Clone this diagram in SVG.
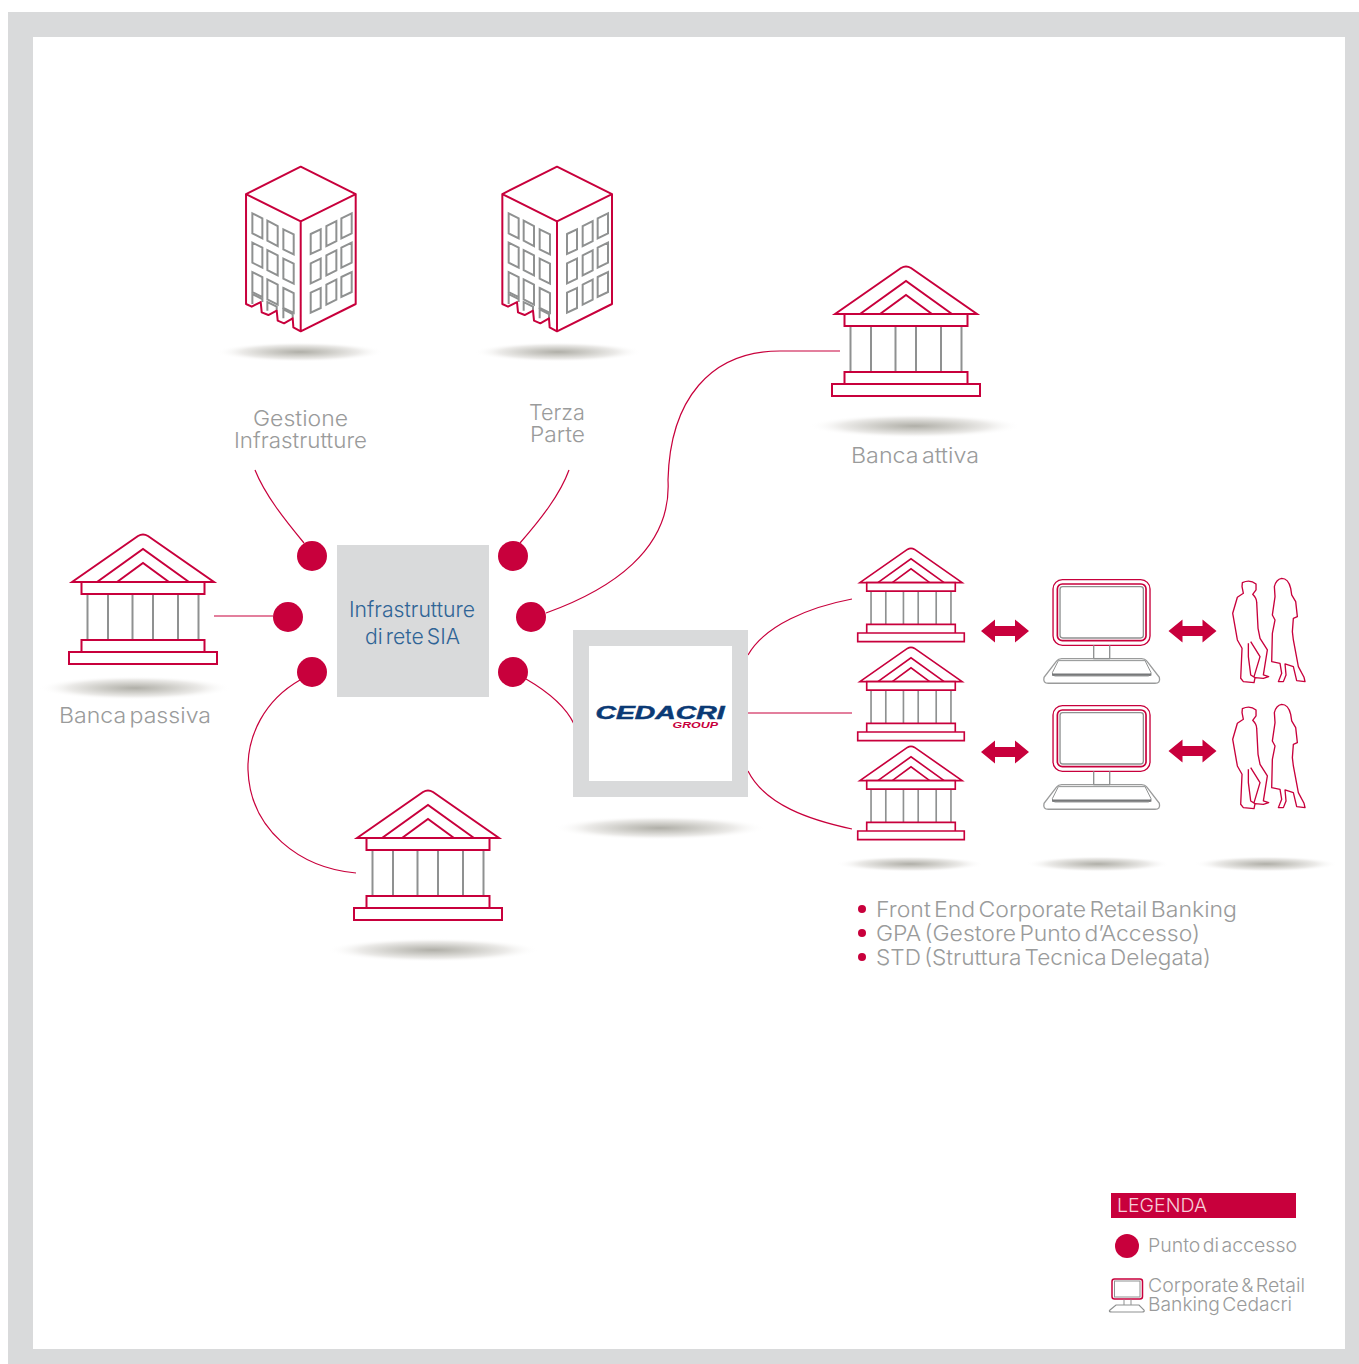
<svg xmlns="http://www.w3.org/2000/svg" xmlns:xlink="http://www.w3.org/1999/xlink" width="1359" height="1364" viewBox="0 0 1359 1364">
<style>
.b{fill:none;stroke:#c8003c}
.bw{fill:#fff;stroke:#c8003c}
.bg{fill:none;stroke:#8f9191}
.c{fill:none;stroke:#c8003c;stroke-width:1.2}
.dot{fill:#c8003c}
text{font-family:"Inter","Liberation Sans",sans-serif;font-weight:300;fill:#9a9b9b;font-size:22px;word-spacing:-3px}
.m{text-anchor:middle}
</style>
<defs>
<radialGradient id="sh"><stop offset="0" stop-color="#b0afa8"/><stop offset=".35" stop-color="#cdccc7"/><stop offset=".7" stop-color="#ecebe9"/><stop offset="1" stop-color="#fff" stop-opacity="0"/></radialGradient>
<g id="bank">
<path class="b" d="M-71 48 L-5 2 Q0 -1 5 2 L71 48 Z"/>
<path class="b" d="M-46 48 L0 15 L46 48 M-26 48 L0 29 L26 48"/>
<path class="bg" d="M-55.500 60V106M-35 60V106M-10.500 60V106M10 60V106M35 60V106M55.500 60V106"/>
<path class="bw" d="M-61.500 48H61.500V60H-61.500Z M-61.500 106H61.500V118H-61.500Z M-74 118H74V130H-74Z"/>
</g>
<g id="tower" transform="scale(.3333) translate(-272,-50)">
<g fill="none" stroke="#8f9191" stroke-width="6">
<path d="M127 190L157 205V265L127 250ZM172 212L203 228V288L172 272ZM220 238L251 253V313L220 298Z"/>
<path d="M127 278L157 293V353L127 338ZM172 300L203 316V376L172 360ZM220 326L251 341V401L220 386Z"/>
<path d="M127 366L157 381V441L127 426ZM172 388L203 404V464L172 448ZM220 414L251 429V489L220 474Z"/>
<path d="M127 462V432L157 447V456M172 482V456L200 470V482M220 505V478L248 492V505"/>
<path d="M302 252L332 238V298L302 312ZM349 228L379 213V273L349 288ZM394 205L425 190V250L394 265Z"/>
<path d="M302 340L332 326V386L302 400ZM349 316L379 301V361L349 376ZM394 293L425 278V338L394 353Z"/>
<path d="M302 428L332 414V474L302 488ZM349 404L379 389V449L349 464ZM394 381L425 366V426L394 441Z"/>
</g>
<path fill="none" stroke="#c8003c" stroke-width="6" stroke-linejoin="round" d="M272 50L437 132L272 214L108 132ZM108 132V462L125 470L152 456L155 487L175 495L200 482L203 512L222 520L248 505L250 532L272 544L437 462V132M272 214V544"/>
</g>
<path id="arrow" class="dot" d="M-24 0L-10 -11.500V-5H10V-11.500L24 0L10 11.500V5H-10V11.500Z"/>
<g id="pc" transform="scale(.3333) translate(-68,-58)">
<rect x="69" y="59" width="291" height="197" rx="28" fill="none" stroke="#c8003c" stroke-width="4"/>
<rect x="82" y="72" width="266" height="170" rx="15" fill="none" stroke="#c8003c" stroke-width="5"/>
<rect x="90" y="80" width="250" height="154" rx="8" fill="none" stroke="#8f9191" stroke-width="4"/>
<path d="M191 256V296M239 256V296" fill="none" stroke="#8f9191" stroke-width="4"/>
<path d="M95 296H335Q345 296 350 303L388 352Q392 370 375 370H55Q38 370 42 352L80 303Q85 296 95 296Z" fill="none" stroke="#9a9b9b" stroke-width="4"/>
<path d="M85 302H345L363 338Q364 348 355 348H75Q66 348 67 338Z" fill="none" stroke="#8f9191" stroke-width="3"/>
<path d="M66 344H364" fill="none" stroke="#77797a" stroke-width="7"/>
<path d="M190 296H240" fill="none" stroke="#8f9191" stroke-width="4"/>
</g>
<g id="people" transform="scale(.3333) translate(-608,-55)" fill="none" stroke="#c8003c" stroke-width="4" stroke-linejoin="round">
<path d="M637 68Q660 57 678 72L678 90L668 103Q680 115 680 128L684 205L690 235L712 270L700 345L716 350L700 355L675 353L672 368L640 365L632 355L636 265L622 240L608 160L622 112L640 100L636 80Z"/>
<path d="M655 250V290L662 345L675 353M662 245L690 290L672 350"/>
<path d="M755 55Q775 55 782 85L785 105L797 125L802 170L790 175L787 215L790 240L805 320L822 352L825 365L800 362L790 320L765 312L768 345L760 365L745 365L755 340L750 310L725 305L727 220L735 180L727 165L735 110L733 80Q738 58 755 55Z"/>
</g>
</defs>
<rect width="1359" height="1364" fill="#fff"/>
<path id="frame" fill="#d9dadb" fill-rule="evenodd" d="M8 12H1359V1364H8ZM33 37V1349H1345V37Z"/>
<g id="shadows" fill="url(#sh)">
<ellipse cx="300" cy="352" rx="84" ry="10"/>
<ellipse cx="558" cy="352" rx="84" ry="10"/>
<ellipse cx="915" cy="426" rx="106" ry="12"/>
<ellipse cx="135" cy="688" rx="96" ry="12"/>
<ellipse cx="660" cy="828" rx="106" ry="12"/>
<ellipse cx="433" cy="950" rx="106" ry="12"/>
<ellipse cx="910" cy="864" rx="74" ry="8"/>
<ellipse cx="1098" cy="864" rx="72" ry="8"/>
<ellipse cx="1266" cy="864" rx="72" ry="8"/>
</g>
<g id="connectors">
<path class="c" d="M255 470C265 495 285 520 304 543"/>
<path class="c" d="M569 470C560 495 540 520 520 543"/>
<path class="c" d="M840 351H780C710 351 670 400 668 480C672 550 610 590 546 613"/>
<path class="c" d="M214 616H273"/>
<path class="c" d="M300 680C265 700 247 735 248 770C250 830 300 868 356 873"/>
<path class="c" d="M526 679C545 690 565 705 574 724"/>
<path class="c" d="M748 655C765 625 810 607 852 599"/>
<path class="c" d="M748 713H852"/>
<path class="c" d="M748 771C765 805 810 820 852 829"/>
</g>
<g id="node-gestione"><use href="#tower" transform="translate(300.700,166.700)"/>
<text x="253" y="426" textLength="95" lengthAdjust="spacingAndGlyphs">Gestione</text><text x="234" y="448" textLength="133" lengthAdjust="spacingAndGlyphs">Infrastrutture</text></g>
<g id="node-terza"><use href="#tower" transform="translate(557,166.700)"/>
<text x="529" y="420" textLength="56" lengthAdjust="spacingAndGlyphs">Terza</text><text x="530" y="442" textLength="55" lengthAdjust="spacingAndGlyphs">Parte</text></g>
<g id="node-attiva"><use href="#bank" stroke-width="2" transform="translate(906,266)"/><text x="851" y="463" textLength="128" lengthAdjust="spacingAndGlyphs">Banca attiva</text></g>
<g id="node-passiva"><use href="#bank" stroke-width="2" transform="translate(143,534)"/><text x="59" y="723" textLength="152" lengthAdjust="spacingAndGlyphs">Banca passiva</text></g>
<g id="node-bank-bottom"><use href="#bank" stroke-width="2" transform="translate(428,790)"/></g>
<g id="node-sia"><rect x="337" y="545" width="152" height="152" fill="#d9dadb"/>
<text x="349" y="617" textLength="126" lengthAdjust="spacingAndGlyphs" style="fill:#2f6496">Infrastrutture</text><text x="365" y="644" textLength="95" lengthAdjust="spacingAndGlyphs" style="fill:#2f6496">di rete SIA</text></g>
<g id="node-cedacri"><rect x="573" y="630" width="175" height="167" fill="#d9dadb"/><rect x="589" y="646" width="143" height="135" fill="#fff"/>
<text x="595.500" y="719" textLength="129" lengthAdjust="spacingAndGlyphs" style="font-family:'Liberation Sans',sans-serif;font-weight:700;font-style:italic;font-size:18.500px;fill:#0b3a75;stroke:#0b3a75;stroke-width:.5">CEDACRI</text>
<text x="672.500" y="728" textLength="45.500" lengthAdjust="spacingAndGlyphs" style="font-family:'Liberation Sans',sans-serif;font-weight:700;font-style:italic;font-size:9px;fill:#c8003c">GROUP</text></g>
<g id="access-points">
<circle class="dot" cx="312" cy="556" r="15"/><circle class="dot" cx="513" cy="556" r="15"/>
<circle class="dot" cx="288" cy="617" r="15"/><circle class="dot" cx="531" cy="617" r="15"/>
<circle class="dot" cx="312" cy="672" r="15"/><circle class="dot" cx="513" cy="672" r="15"/>
</g>
<g id="node-bank-s1"><use href="#bank" stroke-width="2.300" transform="translate(911,548) scale(.72)"/></g>
<g id="node-bank-s2"><use href="#bank" stroke-width="2.300" transform="translate(911,647) scale(.72)"/></g>
<g id="node-bank-s3"><use href="#bank" stroke-width="2.300" transform="translate(911,746) scale(.72)"/></g>
<g id="node-pc1"><use href="#pc" transform="translate(1052.700,579.300)"/></g>
<g id="node-pc2"><use href="#pc" transform="translate(1052.700,705.300)"/></g>
<g id="node-people1"><use href="#people" transform="translate(1232.700,578.300)"/></g>
<g id="node-people2"><use href="#people" transform="translate(1232.700,704.300)"/></g>
<g id="arrows">
<use href="#arrow" transform="translate(1005,631)"/><use href="#arrow" transform="translate(1192.500,631)"/>
<use href="#arrow" transform="translate(1005,752)"/><use href="#arrow" transform="translate(1192.500,751)"/>
</g>
<g id="list">
<circle class="dot" cx="862" cy="909" r="4"/><circle class="dot" cx="862" cy="933" r="4"/><circle class="dot" cx="862" cy="957" r="4"/>
<text x="876" y="917" textLength="361" lengthAdjust="spacingAndGlyphs">Front End Corporate Retail Banking</text>
<text x="876" y="941" textLength="324" lengthAdjust="spacingAndGlyphs">GPA (Gestore Punto d’Accesso)</text>
<text x="876" y="965" textLength="335" lengthAdjust="spacingAndGlyphs">STD (Struttura Tecnica Delegata)</text>
</g>
<g id="legend">
<rect x="1111" y="1193" width="185" height="25" fill="#c8003c"/>
<text x="1117" y="1212" style="fill:#f6ccd8;font-size:19px" textLength="90" lengthAdjust="spacingAndGlyphs">LEGENDA</text>
<circle class="dot" cx="1127" cy="1246" r="12"/>
<text x="1148" y="1252" style="font-size:19px" textLength="149" lengthAdjust="spacingAndGlyphs">Punto di accesso</text>
<rect x="1112" y="1279" width="30.500" height="20" rx="2.500" fill="#fff" stroke="#c8003c" stroke-width="1.500"/>
<rect x="1114.500" y="1281" width="25.500" height="16" fill="#fff" stroke="#8f9191" stroke-width="1"/>
<path d="M1124 1299.500V1305M1131 1299.500V1305" stroke="#8f9191" fill="none"/>
<path d="M1116 1305H1139L1144 1310Q1145 1312 1142 1312H1112Q1108 1312 1110 1310Z" fill="none" stroke="#8f9191" stroke-width="1.200"/>
<text x="1148" y="1292" style="font-size:19px" textLength="157" lengthAdjust="spacingAndGlyphs">Corporate &amp; Retail</text>
<text x="1148" y="1311" style="font-size:19px" textLength="144" lengthAdjust="spacingAndGlyphs">Banking Cedacri</text>
</g>
</svg>
